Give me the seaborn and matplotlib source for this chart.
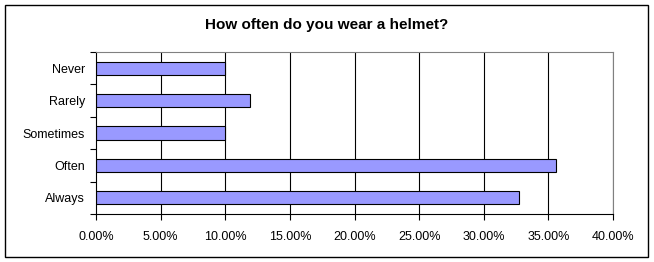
import matplotlib
matplotlib.use("Agg")
import matplotlib.pyplot as plt
from matplotlib.patches import Rectangle
from matplotlib.ticker import FixedLocator
import seaborn as sns
import pandas as pd

categories = ["Never", "Rarely", "Sometimes", "Often", "Always"]
values = [10.0, 11.9, 10.0, 35.6, 32.7]
xticks = [0, 5, 10, 15, 20, 25, 30, 35, 40]
title = "How often do you wear a helmet?"

sns.set_theme(style="white")
plt.rcParams["font.family"] = ["Liberation Sans", "DejaVu Sans"]

df = pd.DataFrame({"cat": categories, "val": values})

fig = plt.figure(figsize=(6.54, 2.62), dpi=100)
ax = fig.add_axes([96 / 654, 1 - 214 / 262, (613 - 96) / 654, (214 - 52) / 262])

sns.barplot(data=df, x="val", y="cat", order=categories, color="#9999FF",
            saturation=1, edgecolor="black", linewidth=0.8, width=0.41, ax=ax)

ax.set_xlim(0, 40)
ax.set_ylim(len(categories) - 0.5, -0.5)
ax.set_xticks(xticks)
ax.set_xticklabels([f"{t:.2f}%" for t in xticks])
for t in xticks[1:]:
    ax.axvline(t, color="black", linewidth=0.8, zorder=0)
ax.set_axisbelow(True)
ax.grid(False)

ax.set_xlabel("")
ax.set_ylabel("")
ax.yaxis.set_minor_locator(FixedLocator([i - 0.5 for i in range(len(categories) + 1)]))
ax.tick_params(axis="y", which="major", length=0, labelsize=9, pad=8, colors="black")
ax.tick_params(axis="y", which="minor", length=4, width=0.8, color="black", left=True)
ax.tick_params(axis="x", which="major", length=4, width=0.8, color="black", bottom=True,
               labelsize=9, pad=8, labelcolor="black")

for side in ["left", "bottom"]:
    ax.spines[side].set_color("black")
    ax.spines[side].set_linewidth(0.8)
for side in ["top", "right"]:
    ax.spines[side].set_visible(True)
    ax.spines[side].set_color("#808080")
    ax.spines[side].set_linewidth(0.8)

fig.text(0.5, 1 - 25 / 262, title, ha="center", va="center", fontsize=11,
         fontweight="bold", color="black")

fig.patches.append(Rectangle((5 / 654, 5 / 262), 643 / 654, 252 / 262, transform=fig.transFigure,
                             fill=False, edgecolor="black", linewidth=1))

fig.savefig("out.png", dpi=100)
